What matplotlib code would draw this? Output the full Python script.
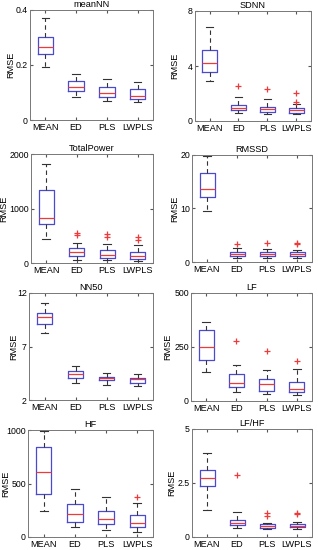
"""
Boxplots de RMSE por metodo para ocho indices HRV (estilo MATLAB)
"""

import matplotlib
matplotlib.use('Agg')
import matplotlib.pyplot as plt

# ============================================================================
# DATOS: [bigote_inf, Q1, mediana, Q3, bigote_sup] por metodo
# ============================================================================

metodos = ['MEAN', 'ED', 'PLS', 'LWPLS']

titulos = ['meanNN', 'SDNN', 'TotalPower', 'RMSSD', 'NN50', 'LF', 'HF', 'LF/HF']

meanNN = [[0.194, 0.239, 0.264, 0.300, 0.370],
          [0.082, 0.105, 0.119, 0.142, 0.166],
          [0.069, 0.082, 0.099, 0.119, 0.150],
          [0.065, 0.076, 0.087, 0.111, 0.138]]
meanNN_out = [[], [], [], []]

sdnn = [[2.93, 3.59, 4.24, 5.16, 6.86],
        [0.56, 0.80, 0.97, 1.16, 1.72],
        [0.51, 0.63, 0.85, 1.04, 1.60],
        [0.48, 0.61, 0.80, 0.92, 1.21]]
sdnn_out = [[], [2.55], [2.30], [2.06, 1.41]]

total_power = [[440, 723, 825, 1337, 1819],
               [60, 120, 193, 271, 361],
               [48, 90, 150, 241, 349],
               [30, 72, 133, 193, 331]]
total_power_out = [[], [554, 512], [530, 482], [482, 422]]

rmssd = [[9.5, 12.2, 13.6, 16.6, 19.9],
         [0.81, 1.18, 1.56, 1.93, 2.55],
         [0.81, 1.18, 1.56, 1.93, 2.40],
         [0.81, 1.12, 1.50, 1.80, 2.24]]
rmssd_out = [[], [3.3], [3.6], [3.5, 3.4]]

nn50 = [[8.3, 9.1, 9.75, 10.1, 11.06],
        [3.6, 4.1, 4.4, 4.72, 5.19],
        [3.4, 3.88, 4.03, 4.19, 4.56],
        [3.34, 3.56, 3.94, 4.1, 4.44]]
nn50_out = [[], [], [], []]

lf = [[132, 190, 252, 327, 364],
      [43, 63, 85, 124, 167],
      [33, 48, 77, 101, 144],
      [26, 43, 56, 90, 147]]
lf_out = [[], [276], [232], [186]]

hf = [[239, 405, 607, 837, 995],
      [92, 138, 218, 310, 448],
      [64, 117, 169, 239, 377],
      [46, 95, 132, 202, 319]]
hf_out = [[], [], [], [371]]

lf_hf = [[1.26, 2.35, 2.71, 3.08, 3.91],
         [0.40, 0.54, 0.66, 0.81, 1.15],
         [0.35, 0.43, 0.51, 0.58, 0.66],
         [0.35, 0.44, 0.52, 0.61, 0.69]]
lf_hf_out = [[], [2.85], [1.12, 0.97], [1.09, 1.06]]

paneles = [meanNN, sdnn, total_power, rmssd, nn50, lf, hf, lf_hf]
atipicos = [meanNN_out, sdnn_out, total_power_out, rmssd_out,
            nn50_out, lf_out, hf_out, lf_hf_out]

limites_y = [(0, 0.4), (0, 8), (0, 2000), (0, 20), (2, 12), (0, 500), (0, 1000), (0, 5)]
ticks_y = [[0, 0.2, 0.4], [0, 4, 8], [0, 1000, 2000], [0, 10, 20],
           [2, 7, 12], [0, 250, 500], [0, 500, 1000], [0, 2.5, 5]]
etiquetas_y = [['0', '0.2', '0.4'], ['0', '4', '8'], ['0', '1000', '2000'],
               ['0', '10', '20'], ['2', '7', '12'], ['0', '250', '500'],
               ['0', '500', '1000'], ['0', '2.5', '5']]

# posiciones de los ejes en pixeles: (izq, arriba, der, abajo)
W, H = 318, 550
cajas = [(30, 10, 153, 120), (195, 11, 311, 121),
         (31, 154, 153, 263), (192, 155, 312, 262),
         (29, 293, 153, 400), (191, 293, 312, 401),
         (28, 430, 153, 537), (192, 429, 312, 537)]
# centro horizontal (px) de la etiqueta RMSE de cada panel
centro_ylabel = [12, 176, 5, 176, 15, 169, 7, 173]

FS = 6.6
FS_TICK = 6.3


def dibujar_panel(ax, datos, outs, titulo, lim, ticks, etiquetas, x_label):
    stats = []
    for d, o in zip(datos, outs):
        stats.append({'whislo': d[0], 'q1': d[1], 'med': d[2], 'q3': d[3],
                      'whishi': d[4], 'fliers': o})
    ax.bxp(stats, positions=[1, 2, 3, 4], widths=0.5, capwidths=0.25,
           boxprops=dict(color='#4a4ad0', linewidth=0.9),
           medianprops=dict(color='#f03a3a', linewidth=0.9),
           whiskerprops=dict(color='#333333', linestyle=(0, (4, 3)), linewidth=0.8),
           capprops=dict(color='#333333', linewidth=0.8),
           flierprops=dict(marker='+', markeredgecolor='#f03a3a',
                           markersize=4, markeredgewidth=0.9))
    ax.set_xlim(0.5, 4.5)
    ax.set_ylim(*lim)
    ax.set_yticks(ticks)
    ax.set_yticklabels(etiquetas)
    ax.set_xticks([1, 2, 3, 4])
    ax.set_xticklabels(metodos, fontsize=FS)
    ax.tick_params(direction='in', length=2, labelsize=FS_TICK, pad=1.5,
                   top=True, right=True, color='#555555')
    ax.tick_params(axis='x', labelsize=FS, pad=2.5)
    for s in ax.spines.values():
        s.set_color('#777777')
        s.set_linewidth(0.7)
    ax.set_title(titulo, fontsize=FS, pad=2)
    ax.set_ylabel('RMSE', fontsize=FS)
    ax.yaxis.set_label_coords(x_label, 0.5)


plt.rcParams['font.family'] = ['Liberation Sans', 'DejaVu Sans']
fig = plt.figure(figsize=(W / 100, H / 100), dpi=100)

for i in range(8):
    izq, arriba, der, abajo = cajas[i]
    ax = fig.add_axes([izq / W, 1 - abajo / H, (der - izq) / W, (abajo - arriba) / H])
    # la coordenada de la etiqueta es su borde derecho (texto girado)
    x_label = (centro_ylabel[i] + 3.5 - izq) / (der - izq)
    dibujar_panel(ax, paneles[i], atipicos[i], titulos[i],
                  limites_y[i], ticks_y[i], etiquetas_y[i], x_label)

fig.savefig('out.png', dpi=100)
